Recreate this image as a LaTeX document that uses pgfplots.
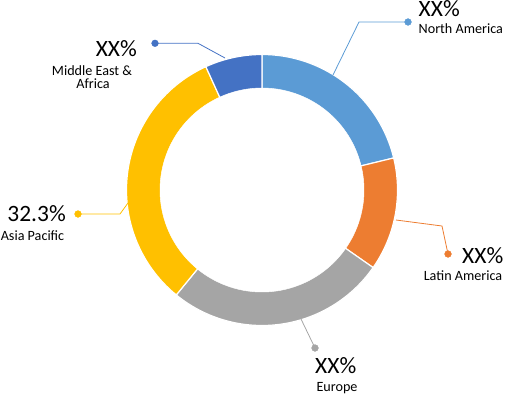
\documentclass[border=0pt]{standalone}
\usepackage{fontspec}
\setmainfont{Carlito}
\usepackage{pgfplots}
\pgfplotsset{compat=1.18}
\definecolor{cNA}{HTML}{5B9BD5}
\definecolor{cLA}{HTML}{ED7D31}
\definecolor{cEU}{HTML}{A5A5A5}
\definecolor{cAP}{HTML}{FFC000}
\definecolor{cME}{HTML}{4472C4}
\newcommand\bigfnt{\fontsize{23.5}{28}\selectfont}
\newcommand\smlfnt{\fontsize{14.2}{16}\selectfont}
\begin{document}
\begin{tikzpicture}
% shares in percent: North America, Latin America, Europe, Asia Pacific, Middle East & Africa
\def\vNA{21.2}\def\vLA{13.5}\def\vEU{26.2}\def\vAP{32.3}\def\vME{6.8}
\pgfmathsetmacro\aA{\vNA*3.6}
\pgfmathsetmacro\aB{\aA+\vLA*3.6}
\pgfmathsetmacro\aC{\aB+\vEU*3.6}
\pgfmathsetmacro\aD{\aC+\vAP*3.6}
\pgfmathsetmacro\aE{\aD+\vME*3.6}
\begin{axis}[scale only axis, width=506bp, height=396bp,
  xmin=0, xmax=506, ymin=0, ymax=396, y dir=reverse,
  hide axis, clip=false]
\path (rel axis cs:0,0) (rel axis cs:1,1);
\addplot[fill=cNA, draw=white, line width=1.2pt, domain=0:\aA, samples=60] ({262+135.5*sin(x)},{190-135.5*cos(x)}) -- (262,190) -- cycle;
\addplot[fill=cLA, draw=white, line width=1.2pt, domain=\aA:\aB, samples=40] ({262+135.5*sin(x)},{190-135.5*cos(x)}) -- (262,190) -- cycle;
\addplot[fill=cEU, draw=white, line width=1.2pt, domain=\aB:\aC, samples=60] ({262+135.5*sin(x)},{190-135.5*cos(x)}) -- (262,190) -- cycle;
\addplot[fill=cAP, draw=white, line width=1.2pt, domain=\aC:\aD, samples=80] ({262+135.5*sin(x)},{190-135.5*cos(x)}) -- (262,190) -- cycle;
\addplot[fill=cME, draw=white, line width=1.2pt, domain=\aD:\aE, samples=30] ({262+135.5*sin(x)},{190-135.5*cos(x)}) -- (262,190) -- cycle;
\addplot[fill=white, draw=white, line width=0.5pt, domain=0:360, samples=150] ({262+102*sin(x)},{190-102*cos(x)}) -- cycle;
% leader lines
\addplot[cNA, line width=0.8pt, mark=none] coordinates {(333,75) (359,22) (408,22)};
\addplot[cNA, only marks, mark=*, mark size=3.4pt] coordinates {(408,22)};
\addplot[cLA, line width=0.8pt, mark=none] coordinates {(396,220) (442,226) (448,254)};
\addplot[cLA, only marks, mark=*, mark size=3.4pt] coordinates {(448,254)};
\addplot[cEU, line width=0.8pt, mark=none] coordinates {(301,319) (315,348)};
\addplot[cEU, only marks, mark=*, mark size=3.4pt] coordinates {(315,348)};
\addplot[cAP, line width=0.8pt, mark=none] coordinates {(128,203) (120,214) (78,214)};
\addplot[cAP, only marks, mark=*, mark size=3.4pt] coordinates {(78,214)};
\addplot[cME, line width=0.8pt, mark=none] coordinates {(225,58) (198,43.3) (155,43.3)};
\addplot[cME, only marks, mark=*, mark size=3.4pt] coordinates {(155,43.3)};
% labels
\node[anchor=base west, inner sep=0, font=\bigfnt] at (418.5,16.7) {XX\%};
\node[anchor=base west, inner sep=0, font=\smlfnt] at (418.5,33.3) {North America};
\node[anchor=base east, inner sep=0, font=\bigfnt] at (137,56.7) {XX\%};
\node[anchor=base, inner sep=0, font=\smlfnt] at (92,75) {Middle East \&};
\node[anchor=base, inner sep=0, font=\smlfnt] at (93,88.3) {Africa};
\node[anchor=base west, inner sep=0, font=\bigfnt] at (7.3,221.7) {32.3\%};
\node[anchor=base, inner sep=0, font=\smlfnt] at (32.5,240) {Asia Pacific};
\node[anchor=base west, inner sep=0, font=\bigfnt] at (462,263.3) {XX\%};
\node[anchor=base, inner sep=0, font=\smlfnt] at (463,280) {Latin America};
\node[anchor=base west, inner sep=0, font=\bigfnt] at (315,373.3) {XX\%};
\node[anchor=base, inner sep=0, font=\smlfnt] at (337,391) {Europe};
\end{axis}
\end{tikzpicture}
\end{document}
